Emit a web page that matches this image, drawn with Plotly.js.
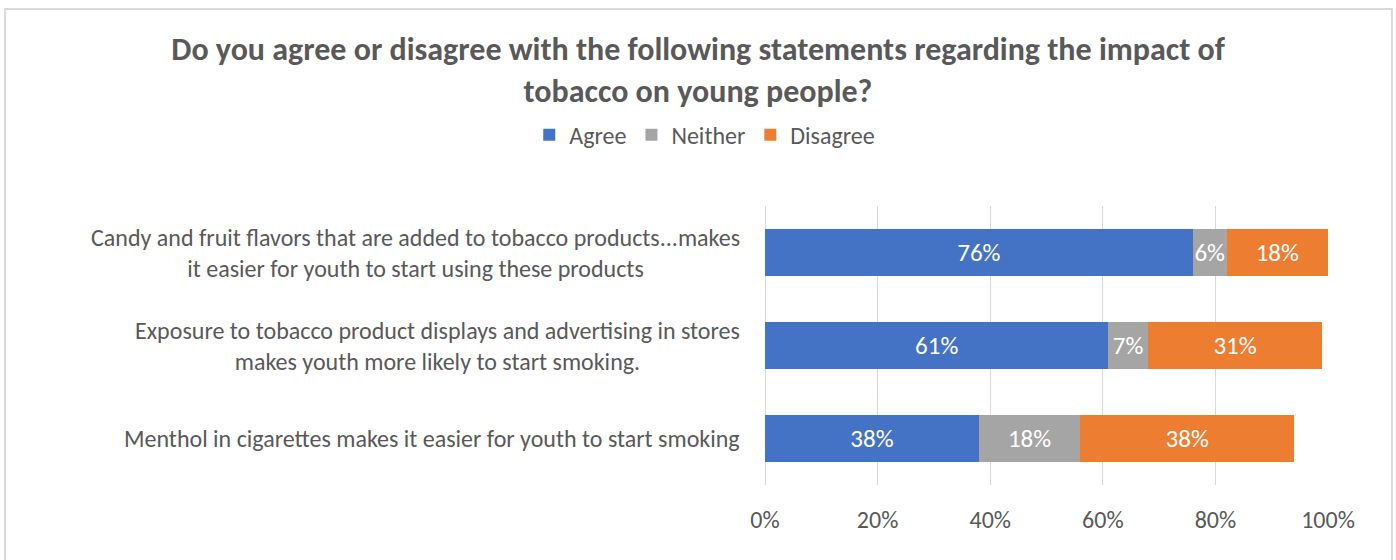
<!DOCTYPE html>
<html>
<head>
<meta charset="utf-8">
<script src="https://cdn.plot.ly/plotly-3.0.1.min.js"></script>
<style>
  html, body { margin: 0; padding: 0; background: #fff; }
  #wrap { position: relative; width: 1396px; height: 560px; }
  #chart { position: absolute; left: 0; top: 0; width: 1396px; height: 560px; }
  #frame { position: absolute; left: 4px; top: 8px; width: 1385px; height: 600px; border: 2px solid #D9D9D9; pointer-events: none; }
</style>
</head>
<body>
<div id="wrap">
  <div id="chart"></div>
  <div id="frame"></div>
</div>
<script>
const categories = [
  "Candy and fruit flavors that are added to tobacco products...makes<br>it easier for youth to start using these products",
  "Exposure to tobacco product displays and advertising in stores<br>makes youth more likely to start smoking.",
  "Menthol in cigarettes makes it easier for youth to start smoking"
];
const agree    = [0.76, 0.61, 0.38];
const neither  = [0.06, 0.07, 0.18];
const disagree = [0.18, 0.31, 0.38];
const seriesNames = ["Agree", "Neither", "Disagree"];
const tickValues = [0, 0.2, 0.4, 0.6, 0.8, 1.0];

const FONT = "Carlito, Lato, 'Open Sans', sans-serif";
const GREY = "#595959";
const colors = ["#4472C4", "#A5A5A5", "#ED7D31"];

const traces = [agree, neither, disagree].map((vals, i) => ({
  type: "bar",
  orientation: "h",
  name: seriesNames[i],
  y: categories,
  x: vals,
  marker: { color: colors[i] },
  texttemplate: "%{x:.0%}",
  textposition: "inside",
  insidetextanchor: "middle",
  textangle: 0,
  constraintext: "none",
  textfont: { family: FONT, size: 25, color: "#FFFFFF" },
  hoverinfo: "skip"
}));

const annotations = categories.map(c => ({
  xref: "paper", yref: "y",
  x: -0.041, y: c,
  xanchor: "right", yanchor: "middle",
  align: "center",
  text: c,
  showarrow: false,
  font: { family: FONT, size: 24, color: GREY }
}));

const layout = {
  width: 1396, height: 560,
  margin: { l: 765, r: 68, t: 206, b: 75 },
  paper_bgcolor: "#FFFFFF",
  plot_bgcolor: "#FFFFFF",
  barmode: "stack",
  bargap: 0.5,
  title: {
    text: "Do you agree or disagree with the following statements regarding the impact of<br>tobacco on young people?",
    font: { family: FONT, size: 32, color: GREY, weight: "bold" },
    xref: "container", yref: "container",
    x: 0.5, xanchor: "center",
    y: 1 - 60 / 560, yanchor: "middle"
  },
  showlegend: true,
  legend: {
    orientation: "h",
    x: -0.107, xanchor: "center",
    y: 1.254, yanchor: "middle",
    font: { family: FONT, size: 24, color: GREY },
    itemwidth: 30,
    itemclick: false, itemdoubleclick: false,
    traceorder: "normal"
  },
  xaxis: {
    range: [0, 1],
    tickvals: tickValues,
    tickformat: ".0%",
    showgrid: true,
    gridcolor: "#D9D9D9",
    gridwidth: 1,
    zeroline: true,
    zerolinecolor: "#D9D9D9",
    zerolinewidth: 1,
    showline: false,
    ticks: "",
    ticklabelstandoff: 18,
    tickfont: { family: FONT, size: 24, color: GREY },
    fixedrange: true
  },
  yaxis: {
    type: "category",
    autorange: "reversed",
    showticklabels: false,
    showgrid: false,
    zeroline: false,
    showline: false,
    ticks: "",
    fixedrange: true
  },
  annotations: annotations
};

Plotly.newPlot("chart", traces, layout, { displayModeBar: false, staticPlot: true });
</script>
</body>
</html>
